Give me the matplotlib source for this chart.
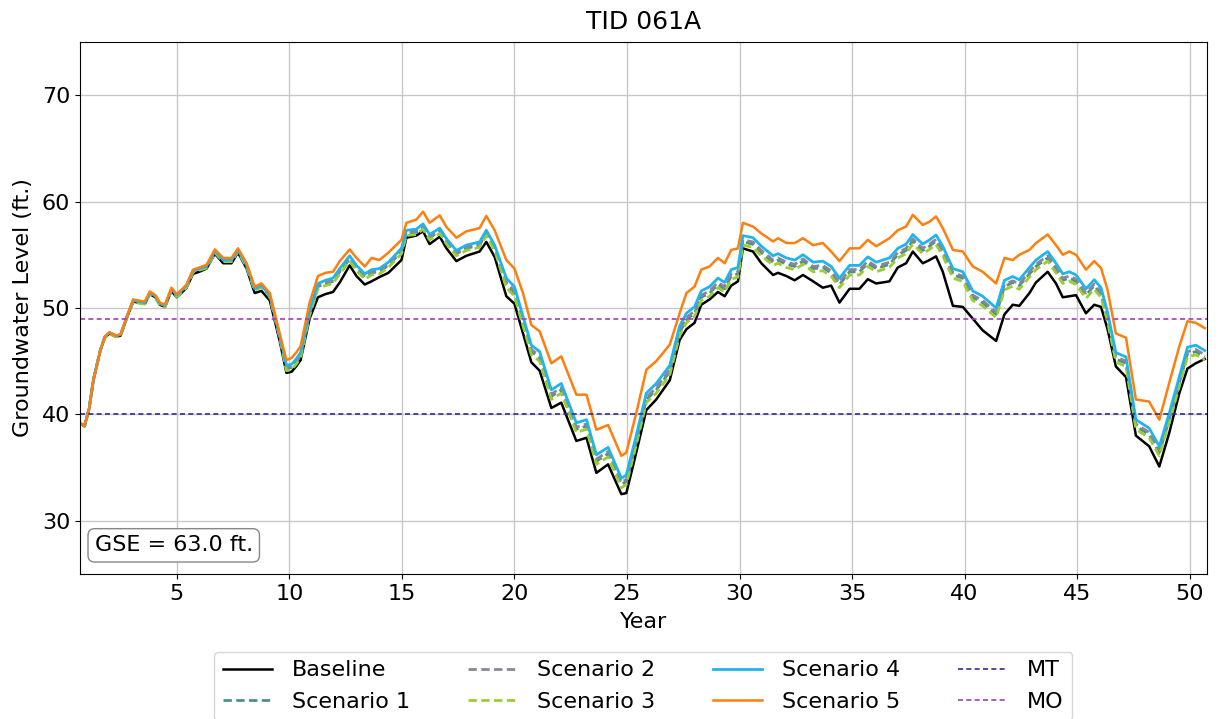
import matplotlib
matplotlib.use("Agg")
import matplotlib.pyplot as plt

# simulated groundwater levels at well TID 061A (ft.)
years = [
    0.75, 0.9, 1.1, 1.3, 1.6, 1.8, 2.0, 2.3, 2.5, 2.8, 3.06, 3.3, 3.58, 3.8, 4.05, 4.25, 4.47,
    4.76, 4.99, 5.2, 5.43, 5.72, 6.0, 6.32, 6.69, 7.06, 7.43, 7.72, 8.1, 8.46, 8.76, 9.13, 9.57,
    9.87, 10.1, 10.3, 10.5, 10.9, 11.27, 11.6, 11.94, 12.24, 12.68, 12.98, 13.35, 13.65, 14.0,
    14.4, 14.98, 15.2, 15.64, 15.94, 16.23, 16.68, 16.98, 17.42, 17.86, 18.45, 18.75, 19.12,
    19.64, 20.0, 20.38, 20.75, 21.12, 21.64, 22.08, 22.75, 23.2, 23.64, 24.16, 24.75, 24.97,
    25.41, 25.86, 26.3, 26.9, 27.34, 27.64, 28.0, 28.3, 28.67, 29.04, 29.34, 29.63, 29.93,
    30.15, 30.6, 30.97, 31.49, 31.71, 32.08, 32.45, 32.82, 33.27, 33.7, 34.07, 34.44, 34.89,
    35.33, 35.7, 36.07, 36.66, 37.03, 37.4, 37.7, 38.14, 38.44, 38.73, 39.03, 39.48, 39.92,
    40.36, 40.8, 41.4, 41.77, 42.14, 42.43, 42.88, 43.17, 43.69, 44.06, 44.36, 44.65, 44.95,
    45.39, 45.76, 46.06, 46.35, 46.72, 47.17, 47.61, 48.2, 48.65, 49.09, 49.54, 49.9, 50.27, 50.67,
]

baseline = [
    39.1, 38.9, 40.5, 43.3, 46.0, 47.2, 47.6, 47.3, 47.4, 49.2, 50.6, 50.5, 50.4, 51.3, 51.0, 50.3, 50.1,
    51.6, 51.0, 51.4, 51.9, 53.2, 53.4, 53.7, 55.1, 54.2, 54.2, 55.2, 53.7, 51.4, 51.6, 50.7, 46.9,
    43.9, 44.0, 44.5, 45.1, 49.0, 51.0, 51.3, 51.5, 52.4, 54.0, 53.0, 52.2, 52.5, 52.9,
    53.3, 54.5, 56.6, 56.8, 57.2, 56.0, 56.7, 55.6, 54.4, 54.9, 55.3, 56.2, 54.8,
    51.1, 50.4, 47.6, 44.9, 44.1, 40.6, 41.1, 37.5, 37.8, 34.5, 35.3, 32.5, 32.6,
    36.4, 40.4, 41.4, 43.2, 47.0, 48.0, 48.6, 50.3, 50.8, 51.5, 51.1, 52.1, 52.5,
    55.6, 55.3, 54.2, 53.1, 53.3, 53.0, 52.6, 53.1, 52.5, 51.9, 52.1, 50.5, 51.8,
    51.8, 52.7, 52.3, 52.5, 53.8, 54.2, 55.3, 54.2, 54.5, 54.85, 53.4, 50.2, 50.1,
    49.0, 47.9, 46.9, 49.4, 50.3, 50.2, 51.4, 52.4, 53.4, 52.3, 51.0, 51.1, 51.2,
    49.5, 50.3, 50.1, 48.0, 44.5, 43.5, 38.0, 37.0, 35.1, 38.25, 42.0, 44.3, 44.8, 45.2,
]

scenario1 = [
    39.1, 38.9, 40.5, 43.3, 46.0, 47.25, 47.65, 47.35, 47.45, 49.25, 50.65, 50.55, 50.45, 51.35, 51.0, 50.35, 50.15,
    51.7, 51.1, 51.5, 52.0, 53.4, 53.6, 53.8, 55.25, 54.4, 54.4, 55.35, 53.9, 51.7, 52.0, 51.1, 47.3,
    44.3, 44.4, 44.9, 45.5, 49.5, 52.0, 52.3, 52.5, 53.4, 54.6, 53.7, 52.9, 53.3, 53.4,
    54.0, 55.3, 57.0, 57.1, 57.6, 56.6, 57.2, 56.2, 55.1, 55.6, 55.9, 57.0, 55.6,
    52.2, 51.4, 48.6, 45.9, 45.3, 41.7, 42.3, 38.6, 38.9, 35.6, 36.3, 33.4, 33.7,
    37.4, 41.4, 42.3, 44.0, 47.7, 48.9, 49.5, 51.0, 51.4, 52.2, 51.8, 53.0, 53.2,
    56.2, 56.0, 55.2, 54.3, 54.5, 54.1, 53.9, 54.4, 53.7, 53.8, 53.3, 52.2, 53.4,
    53.4, 54.2, 53.7, 54.1, 55.0, 55.4, 56.3, 55.4, 55.8, 56.3, 55.2, 53.1, 52.8,
    51.0, 50.5, 49.4, 52.0, 52.4, 52.1, 53.2, 53.9, 54.7, 53.6, 52.6, 52.8, 52.5,
    51.2, 52.1, 51.3, 49.0, 45.2, 44.8, 38.9, 38.1, 36.4, 39.5, 43.0, 45.7, 45.9, 45.4,
]

scenario2 = [
    39.1, 38.9, 40.5, 43.3, 46.0, 47.2, 47.6, 47.3, 47.4, 49.2, 50.6, 50.5, 50.4, 51.35, 51.0, 50.3, 50.1,
    51.7, 51.1, 51.5, 52.0, 53.4, 53.6, 53.8, 55.25, 54.4, 54.4, 55.35, 53.9, 51.7, 52.0, 51.1, 47.3,
    44.4, 44.5, 45.0, 45.6, 49.6, 52.1, 52.4, 52.6, 53.5, 54.7, 53.8, 53.0, 53.4, 53.5,
    54.1, 55.4, 57.1, 57.2, 57.7, 56.7, 57.3, 56.3, 55.2, 55.7, 56.0, 57.1, 55.7,
    52.4, 51.6, 48.8, 46.1, 45.5, 41.9, 42.5, 38.8, 39.1, 35.8, 36.5, 33.6, 33.9,
    37.6, 41.6, 42.5, 44.2, 47.9, 49.1, 49.7, 51.2, 51.6, 52.4, 52.0, 53.2, 53.4,
    56.4, 56.2, 55.4, 54.5, 54.7, 54.3, 54.1, 54.6, 53.9, 54.0, 53.5, 52.4, 53.6,
    53.6, 54.4, 53.9, 54.3, 55.2, 55.6, 56.5, 55.6, 56.0, 56.45, 55.4, 53.3, 53.0,
    51.2, 50.7, 49.6, 52.2, 52.55, 52.25, 53.4, 54.1, 54.9, 53.8, 52.8, 53.0, 52.7,
    51.4, 52.25, 51.5, 49.2, 45.4, 45.0, 39.1, 38.3, 36.6, 39.7, 43.15, 45.9, 46.1, 45.6,
]

scenario3 = [
    39.1, 38.9, 40.5, 43.3, 46.0, 47.2, 47.6, 47.3, 47.4, 49.2, 50.55, 50.45, 50.35, 51.3, 50.95, 50.25, 50.05,
    51.65, 51.05, 51.45, 51.95, 53.35, 53.55, 53.75, 55.2, 54.35, 54.35, 55.3, 53.85, 51.65, 51.95, 51.05, 47.25,
    44.1, 44.2, 44.7, 45.3, 49.3, 51.8, 52.1, 52.3, 53.2, 54.4, 53.5, 52.7, 53.1, 53.2,
    53.8, 55.1, 56.8, 56.9, 57.4, 56.4, 57.0, 56.0, 54.9, 55.4, 55.7, 56.8, 55.4,
    51.9, 51.1, 48.3, 45.6, 45.0, 41.4, 42.0, 38.3, 38.6, 35.3, 36.0, 33.1, 33.4,
    37.1, 41.1, 42.0, 43.7, 47.4, 48.6, 49.2, 50.7, 51.1, 51.9, 51.5, 52.7, 52.9,
    55.9, 55.7, 54.9, 54.0, 54.2, 53.8, 53.6, 54.1, 53.4, 53.5, 53.0, 51.9, 53.1,
    53.1, 53.9, 53.4, 53.8, 54.7, 55.1, 56.0, 55.1, 55.5, 55.95, 54.9, 52.8, 52.5,
    50.7, 50.2, 49.1, 51.7, 52.05, 51.75, 52.9, 53.6, 54.4, 53.3, 52.3, 52.5, 52.2,
    50.9, 51.75, 51.0, 48.7, 44.9, 44.5, 38.6, 37.8, 36.1, 39.2, 42.65, 45.4, 45.6, 45.1,
]

scenario4 = [
    39.1, 38.9, 40.5, 43.3, 46.0, 47.3, 47.7, 47.4, 47.5, 49.3, 50.7, 50.6, 50.5, 51.45, 51.1, 50.4, 50.2,
    51.8, 51.2, 51.6, 52.1, 53.5, 53.7, 53.9, 55.35, 54.5, 54.5, 55.45, 54.0, 51.8, 52.1, 51.2, 47.4,
    44.6, 44.7, 45.2, 45.8, 49.8, 52.3, 52.6, 52.8, 53.7, 54.9, 54.0, 53.2, 53.6, 53.7,
    54.3, 55.6, 57.3, 57.4, 57.9, 56.9, 57.5, 56.5, 55.4, 55.9, 56.2, 57.3, 55.9,
    52.8, 52.0, 49.2, 46.5, 45.9, 42.3, 42.9, 39.2, 39.5, 36.2, 36.9, 34.0, 34.3,
    38.0, 42.0, 42.9, 44.6, 48.3, 49.5, 50.1, 51.6, 52.0, 52.8, 52.4, 53.6, 53.8,
    56.8, 56.6, 55.8, 54.9, 55.1, 54.7, 54.5, 55.0, 54.3, 54.4, 53.9, 52.8, 54.0,
    54.0, 54.8, 54.3, 54.7, 55.6, 56.0, 56.9, 56.0, 56.4, 56.85, 55.8, 53.7, 53.4,
    51.6, 51.1, 50.0, 52.6, 52.95, 52.65, 53.8, 54.5, 55.3, 54.2, 53.2, 53.4, 53.1,
    51.8, 52.65, 51.9, 49.6, 45.8, 45.4, 39.5, 38.7, 37.0, 40.1, 43.55, 46.3, 46.5, 46.0,
]

scenario5 = [
    39.1, 38.9, 40.5, 43.3, 46.0, 47.3, 47.7, 47.4, 47.5, 49.3, 50.8, 50.7, 50.6, 51.55, 51.2, 50.5, 50.3,
    51.9, 51.3, 51.7, 52.2, 53.6, 53.8, 54.05, 55.5, 54.7, 54.7, 55.6, 54.2, 52.0, 52.3, 51.4, 47.6,
    45.1, 45.3, 45.8, 46.4, 50.5, 53.0, 53.3, 53.4, 54.4, 55.5, 54.7, 53.9, 54.7, 54.5,
    55.2, 56.4, 58.0, 58.3, 59.05, 58.0, 58.7, 57.6, 56.6, 57.2, 57.5, 58.65, 57.3,
    54.5, 53.7, 51.4, 48.4, 47.8, 44.8, 45.45, 41.85, 41.85, 38.55, 39.0, 36.1, 36.4,
    40.1, 44.2, 45.0, 46.55, 49.5, 51.4, 52.0, 53.6, 53.9, 54.7, 54.2, 55.45, 55.6,
    58.0, 57.65, 57.0, 56.25, 56.55, 56.1, 56.1, 56.55, 55.9, 56.1, 55.3, 54.4, 55.6,
    55.6, 56.4, 55.8, 56.55, 57.3, 57.65, 58.75, 57.8, 58.1, 58.6, 57.5, 55.45, 55.3,
    53.9, 53.4, 52.3, 54.7, 54.5, 55.0, 55.45, 56.1, 56.9, 55.9, 55.0, 55.3, 55.0,
    53.6, 54.4, 53.75, 51.7, 47.6, 47.2, 41.4, 41.2, 39.5, 42.95, 46.4, 48.75, 48.6, 48.1,
]

mt_level = 40.0   # minimum threshold
mo_level = 49.0   # measurable objective
gse = 63.0        # ground surface elevation

plt.rcParams['font.family'] = ['DejaVu Sans']

fig = plt.figure(figsize=(12.2, 7.19), dpi=100)
ax = fig.add_axes([0.0656, 0.2017, 0.9234, 0.74])

dash = (3.0, 1.6)
ax.plot(years, baseline, color='black', lw=1.8, label='Baseline')
ax.plot(years, scenario1, color='#4f8f86', lw=2.0, ls=(0, dash), label='Scenario 1')
ax.plot(years, scenario2, color='#8f8496', lw=2.0, ls=(0, dash), label='Scenario 2')
ax.plot(years, scenario3, color='#9acd32', lw=2.0, ls=(0, dash), label='Scenario 3')
ax.plot(years, scenario4, color='#1fb4ec', lw=2.0, label='Scenario 4')
ax.plot(years, scenario5, color='#ff7f0e', lw=1.8, label='Scenario 5')
ax.axhline(mt_level, color='#2e2e8c', lw=1.2, ls=(0, (3.0, 2.0)), label='MT')
ax.axhline(mo_level, color='#a040b0', lw=1.2, ls=(0, (3.0, 2.0)), label='MO')

ax.set_xlim(0.7, 50.75)
ax.set_ylim(25, 75)
ax.set_xticks(range(5, 51, 5))
ax.set_yticks(range(30, 71, 10))
ax.tick_params(labelsize=16)
ax.grid(True, color='#c8c8c8', lw=1.0)

ax.set_title('TID 061A', fontsize=18, pad=9)
ax.set_xlabel('Year', fontsize=16, labelpad=6)
ax.set_ylabel('Groundwater Level (ft.)', fontsize=16, labelpad=6)

ax.text(0.013, 0.035, f'GSE = {gse:.1f} ft.', transform=ax.transAxes, fontsize=16,
        va='bottom', ha='left',
        bbox=dict(boxstyle='round,pad=0.3', fc='white', ec='#888888'))

ax.legend(loc='upper center', bbox_to_anchor=(0.5, -0.125), ncol=4, fontsize=16,
          frameon=True, handlelength=2.2, handletextpad=0.9, columnspacing=2.6)

fig.savefig('out.png', dpi=100)
